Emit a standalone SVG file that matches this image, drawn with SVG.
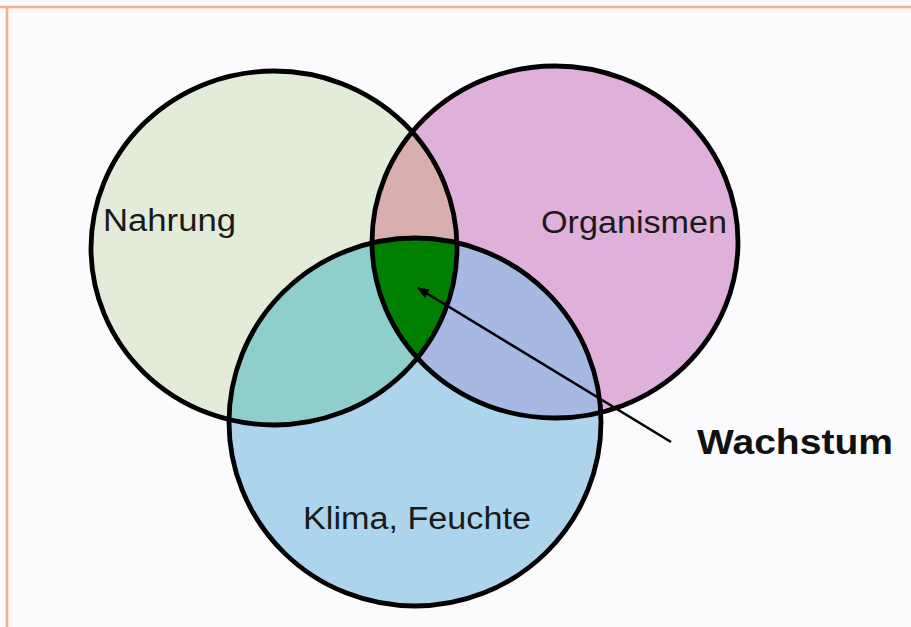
<svg xmlns="http://www.w3.org/2000/svg" width="911" height="627" viewBox="0 0 911 627">
<style>
.lbl{font-family:"Liberation Sans",Arial,sans-serif;font-size:31px;fill:#1a1a1a}
.bold{font-weight:bold;font-size:35px;fill:#111}
.ring{fill:none;stroke:#000;stroke-width:4.8}
</style>
<defs>
<clipPath id="cN"><ellipse cx="274" cy="248" rx="183" ry="177"/></clipPath>
<clipPath id="cO"><ellipse cx="555" cy="242" rx="183" ry="176"/></clipPath>
<marker id="ah" viewBox="0 0 10 10" refX="9" refY="5" markerWidth="16" markerHeight="12" orient="auto" markerUnits="userSpaceOnUse">
<path d="M0,1 L10,5 L0,9 z" fill="#000"/>
</marker>
</defs>
<rect x="0" y="0" width="911" height="627" fill="#fbfbfd"/>
<line x1="0" y1="7" x2="911" y2="7" stroke="#f9b183" stroke-width="2.5"/>
<line x1="7" y1="7" x2="7" y2="627" stroke="#f9b183" stroke-width="2.5"/>
<g id="fills">
<ellipse cx="274" cy="248" rx="183" ry="177" fill="#e3ecd9"/>
<ellipse cx="555" cy="242" rx="183" ry="176" fill="#dfb0d9"/>
<ellipse cx="415" cy="422" rx="186" ry="184" fill="#acd4ec"/>
<ellipse cx="555" cy="242" rx="183" ry="176" fill="#d9aeae" clip-path="url(#cN)"/>
<ellipse cx="415" cy="422" rx="186" ry="184" fill="#8ecfcb" clip-path="url(#cN)"/>
<ellipse cx="415" cy="422" rx="186" ry="184" fill="#a7b8e2" clip-path="url(#cO)"/>
<g clip-path="url(#cO)"><ellipse cx="415" cy="422" rx="186" ry="184" fill="#008000" clip-path="url(#cN)"/></g>
</g>
<g id="nahrung">
<ellipse class="ring" cx="274" cy="248" rx="183" ry="177"/>
<text class="lbl" x="103" y="231" textLength="133" lengthAdjust="spacingAndGlyphs">Nahrung</text>
</g>
<g id="organismen">
<ellipse class="ring" cx="555" cy="242" rx="183" ry="176"/>
<text class="lbl" x="541" y="233" textLength="186" lengthAdjust="spacingAndGlyphs">Organismen</text>
</g>
<g id="klima">
<ellipse class="ring" cx="415" cy="422" rx="186" ry="184"/>
<text class="lbl" x="303" y="529" textLength="228" lengthAdjust="spacingAndGlyphs">Klima, Feuchte</text>
</g>
<g id="wachstum">
<text class="lbl bold" x="697" y="454" textLength="196" lengthAdjust="spacingAndGlyphs">Wachstum</text>
</g>
<g id="connectors">
<line x1="671" y1="442" x2="418" y2="288" stroke="#000" stroke-width="2.5" marker-end="url(#ah)"/>
</g>
</svg>
